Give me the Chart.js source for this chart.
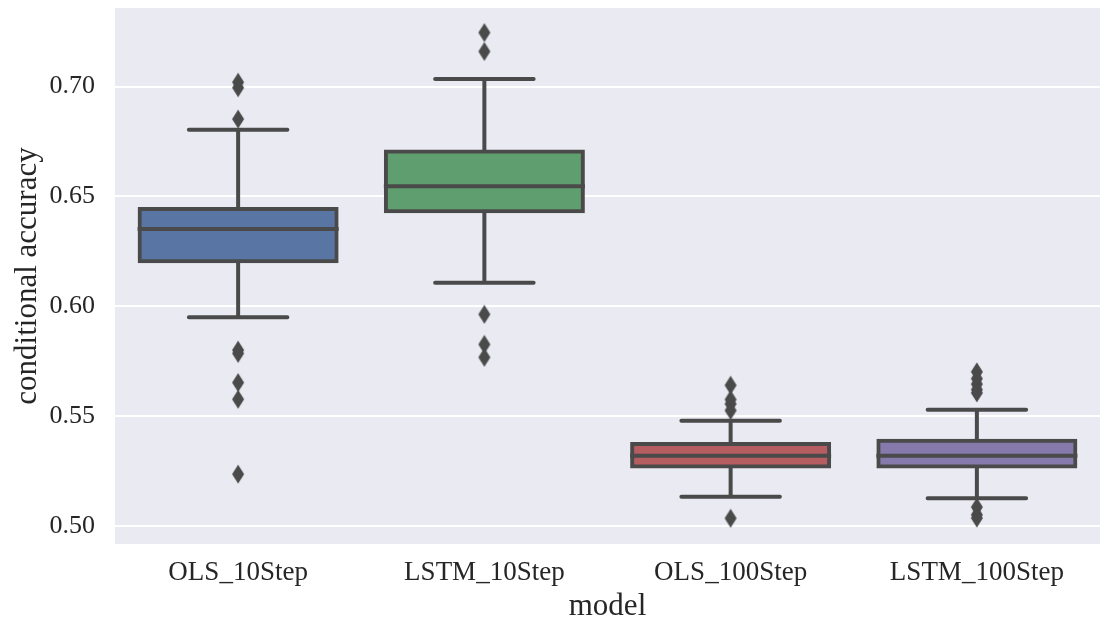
<!DOCTYPE html>
<html>
<head>
<meta charset="utf-8">
<script src="https://cdn.jsdelivr.net/npm/chart.js@4.4.1/dist/chart.umd.min.js"></script>
<style>
  html, body { margin: 0; padding: 0; background: #ffffff; overflow: hidden; width: 1100px; height: 623px; }
  #wrap { width: 1100px; height: 623px; overflow: hidden; position: relative; }
  #c { display: block; width: 1108px; height: 623px; }
</style>
</head>
<body>
<div id="wrap"><canvas id="c" width="1108" height="623"></canvas></div>
<script>
// ---- data ----
const categories = ['OLS_10Step', 'LSTM_10Step', 'OLS_100Step', 'LSTM_100Step'];
const whiskerLow  = [0.5950, 0.6107, 0.5132, 0.5125];
const q1          = [0.6205, 0.6432, 0.5270, 0.5270];
const medians     = [0.6352, 0.6546, 0.5319, 0.5319];
const q3          = [0.6443, 0.6705, 0.5372, 0.5387];
const whiskerHigh = [0.6804, 0.7035, 0.5478, 0.5528];
const outliersOLS10   = [0.7020, 0.6995, 0.6852, 0.5800, 0.5785, 0.5652, 0.5576, 0.5235];
const outliersLSTM10  = [0.7246, 0.7160, 0.5963, 0.5826, 0.5767];
const outliersOLS100  = [0.5640, 0.5575, 0.5555, 0.5525, 0.5034];
const outliersLSTM100 = [0.5701, 0.5670, 0.5645, 0.5620, 0.5605, 0.5085, 0.5050, 0.5035];
const yTickValues = [0.50, 0.55, 0.60, 0.65, 0.70];
const boxColors = ['#5975a4', '#5f9e6e', '#b55d60', '#857aab'];

const LINE = '#4a4a4a';
const FONT = 'Liberation Serif';
const TEXT = '#262626';

const outlierGroups = [outliersOLS10, outliersLSTM10, outliersOLS100, outliersLSTM100];
const outlierPoints = [];
outlierGroups.forEach((arr, i) => arr.forEach(v => outlierPoints.push({x: categories[i], y: v})));

// thin diamond marker
const dia = document.createElement('canvas');
dia.width = 14; dia.height = 20;
(function(){
  const g = dia.getContext('2d');
  g.fillStyle = LINE;
  g.beginPath();
  g.moveTo(7, 0.5); g.lineTo(13, 10); g.lineTo(7, 19.5); g.lineTo(1, 10); g.closePath();
  g.fill();
})();

const bgPlugin = {
  id: 'bg',
  beforeDraw(chart) {
    const {ctx, chartArea: a} = chart;
    ctx.save();
    ctx.fillStyle = '#eaeaf2';
    ctx.fillRect(a.left, a.top, a.right - a.left, a.bottom - a.top);
    ctx.restore();
  }
};

const boxPlugin = {
  id: 'boxparts',
  beforeDatasetsDraw(chart) {
    const {ctx} = chart;
    const ys = chart.scales.y;
    const meta = chart.getDatasetMeta(0);
    ctx.save();
    ctx.strokeStyle = LINE;
    ctx.lineWidth = 4;
    ctx.lineCap = 'round';
    meta.data.forEach((bar, i) => {
      const x = bar.x, hw = bar.width / 4;
      const yLo = ys.getPixelForValue(whiskerLow[i]);
      const yHi = ys.getPixelForValue(whiskerHigh[i]);
      const yQ1 = ys.getPixelForValue(q1[i]);
      const yQ3 = ys.getPixelForValue(q3[i]);
      ctx.beginPath();
      ctx.moveTo(x, yQ3); ctx.lineTo(x, yHi);
      ctx.moveTo(x, yQ1); ctx.lineTo(x, yLo);
      ctx.moveTo(x - hw, yHi); ctx.lineTo(x + hw, yHi);
      ctx.moveTo(x - hw, yLo); ctx.lineTo(x + hw, yLo);
      ctx.stroke();
    });
    ctx.restore();
  },
  afterDatasetsDraw(chart) {
    const {ctx} = chart;
    const ys = chart.scales.y;
    const meta = chart.getDatasetMeta(0);
    ctx.save();
    ctx.strokeStyle = LINE;
    ctx.lineWidth = 4;
    meta.data.forEach((bar, i) => {
      const x = bar.x, hw = bar.width / 2 + 2;
      const ym = ys.getPixelForValue(medians[i]);
      ctx.beginPath();
      ctx.moveTo(x - hw, ym); ctx.lineTo(x + hw, ym);
      ctx.stroke();
    });
    ctx.restore();
  }
};

new Chart(document.getElementById('c'), {
  type: 'bar',
  data: {
    labels: categories,
    datasets: [
      {
        type: 'bar',
        data: categories.map((_, i) => [q1[i], q3[i]]),
        backgroundColor: boxColors,
        borderColor: LINE,
        borderWidth: 4,
        borderSkipped: false,
        inflateAmount: 2,
        barPercentage: 0.8,
        categoryPercentage: 1.0,
        order: 2
      },
      {
        type: 'scatter',
        data: outlierPoints,
        pointStyle: dia,
        pointRadius: 7,
        showLine: false,
        order: 1
      }
    ]
  },
  plugins: [bgPlugin, boxPlugin],
  options: {
    responsive: false,
    devicePixelRatio: 1,
    animation: false,
    layout: { padding: { left: 0, top: 8, right: 1, bottom: 0 } },
    plugins: { legend: { display: false }, tooltip: { enabled: false } },
    scales: {
      x: {
        type: 'category',
        offset: true,
        grid: { display: false, drawTicks: false },
        border: { display: false },
        ticks: { color: TEXT, font: { family: FONT, size: 27 }, padding: 13, maxRotation: 0 },
        title: { display: true, text: 'model', color: TEXT, font: { family: FONT, size: 31 }, padding: { top: 0, bottom: -2 } },
        afterFit(s) { s.height = 79; s.paddingLeft = 0; s.paddingRight = 0; }
      },
      y: {
        type: 'linear',
        min: 0.4917,
        max: 0.7358,
        grid: { color: '#ffffff', lineWidth: 2, drawTicks: false },
        border: { display: false },
        afterBuildTicks(s) { s.ticks = yTickValues.map(v => ({ value: v })); },
        ticks: {
          color: TEXT, font: { family: FONT, size: 26 }, padding: 20,
          callback: v => Number(v).toFixed(2)
        },
        title: { display: true, text: 'conditional accuracy', color: TEXT, font: { family: FONT, size: 31 }, padding: { top: 9, bottom: 0 } },
        afterFit(s) { s.width = 115; s.paddingTop = 0; s.paddingBottom = 0; }
      }
    }
  }
});
</script>
</body>
</html>
